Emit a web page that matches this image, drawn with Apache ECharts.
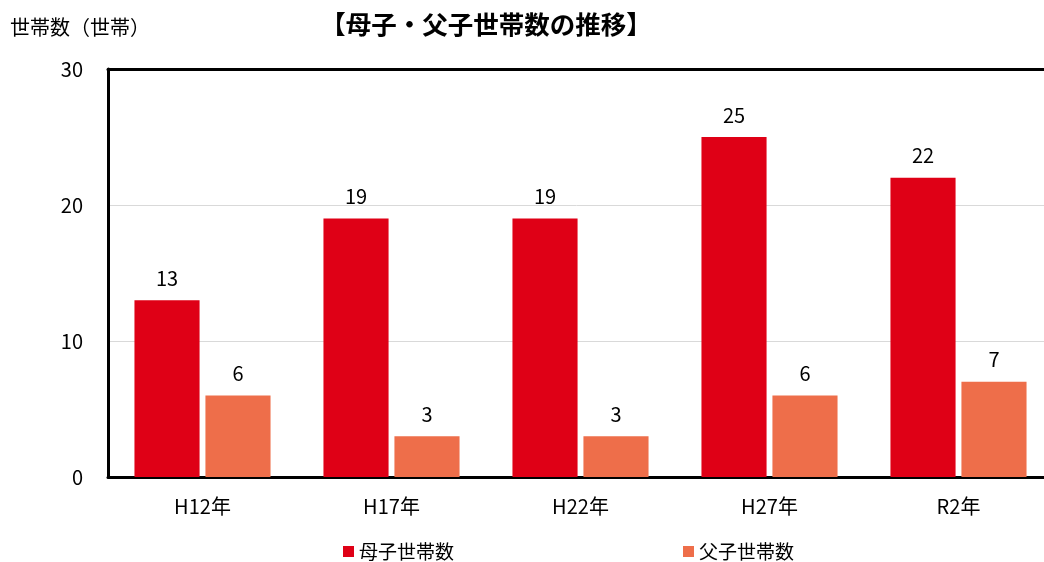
<!DOCTYPE html>
<html><head><meta charset="utf-8">
<script src="https://cdn.jsdelivr.net/npm/echarts@6/dist/echarts.min.js"></script>
<style>html,body{margin:0;padding:0;background:#fff}#c{width:1044px;height:562px}</style>
</head><body><div id="c"></div>
<script>
const categories = ['H12年', 'H17年', 'H22年', 'H27年', 'R2年'];
const motherValues = [13, 19, 19, 25, 22];
const fatherValues = [6, 3, 3, 6, 7];
const yTicks = [0, 10, 20, 30];
const seriesNames = ['母子世帯数', '父子世帯数'];
const FONT = '"Noto Sans CJK JP", "Noto Sans", sans-serif';
const chart = echarts.init(document.getElementById('c'));
chart.setOption({
  animation: false,
  textStyle: { fontFamily: FONT },
  title: {
    text: '【母子・父子世帯数の推移】',
    left: 481, top: 7, textAlign: 'center',
    textStyle: { fontSize: 25.5, fontWeight: 'bold', color: '#000', fontFamily: FONT }
  },
  legend: {
    top: 542, left: 343, padding: 0,
    itemGap: 229, itemWidth: 11, itemHeight: 11, icon: 'rect',
    textStyle: { fontSize: 19, color: '#000', fontFamily: FONT }
  },
  grid: { left: 108, width: 945, top: 69, height: 408, outerBoundsMode: 'none', containLabel: false },
  xAxis: [{
    type: 'category', data: categories,
    axisLine: { lineStyle: { color: '#000', width: 3 } },
    axisTick: { show: false },
    axisLabel: { fontSize: 20, color: '#000', margin: 19, fontFamily: FONT }
  }, {
    type: 'category', data: categories, position: 'top',
    axisLine: { show: true, lineStyle: { color: '#000', width: 3 } },
    axisTick: { show: false }, axisLabel: { show: false }, splitLine: { show: false }
  }],
  yAxis: {
    type: 'value', min: yTicks[0], max: yTicks[yTicks.length - 1], interval: 10,
    name: '世帯数（世帯）', nameLocation: 'end', nameGap: 32,
    nameTextStyle: { fontSize: 20, color: '#000', align: 'left', padding: [0, 0, 0, -98], fontFamily: FONT },
    axisLine: { show: true, lineStyle: { color: '#000', width: 3 } },
    axisTick: { show: false },
    axisLabel: { fontSize: 20, color: '#000', margin: 25, fontFamily: FONT },
    splitLine: { lineStyle: { color: '#d9d9d9', width: 1 } }
  },
  series: [
    { name: seriesNames[0], type: 'bar', data: motherValues, barGap: '9%', barCategoryGap: '28%',
      itemStyle: { color: '#DF0016' },
      label: { show: true, position: 'top', distance: 12, fontSize: 20, color: '#000', fontFamily: FONT } },
    { name: seriesNames[1], type: 'bar', data: fatherValues,
      itemStyle: { color: '#EE6E4A' },
      label: { show: true, position: 'top', distance: 12, fontSize: 20, color: '#000', fontFamily: FONT } }
  ]
});
</script></body></html>
